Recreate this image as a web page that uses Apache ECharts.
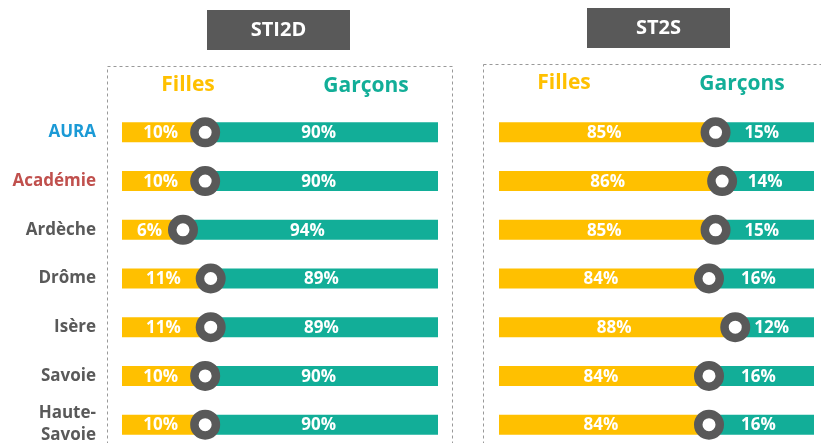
<!DOCTYPE html>
<html>
<head>
<meta charset="utf-8">
<script src="https://cdn.jsdelivr.net/npm/echarts@6/dist/echarts.min.js"></script>
<style>
  html, body { margin: 0; padding: 0; background: #fff; }
  #chart { width: 821px; height: 443px; }
</style>
</head>
<body>
<div id="chart"></div>
<script>
// territoires (du haut vers le bas)
const territoires = ['AURA', 'Académie', 'Ardèche', 'Drôme', 'Isère', 'Savoie', 'Haute-\nSavoie']
const couleursTerritoires = ['#1b9ad6', '#c0504d', '#595959', '#595959', '#595959', '#595959', '#595959']

// STI2D
const sti2dFilles = [10, 10, 6, 11, 11, 10, 10]
const sti2dGarcons = [90, 90, 94, 89, 89, 90, 90]

// ST2S
const st2sFilles = [85, 86, 85, 84, 88, 84, 84]
const st2sGarcons = [15, 14, 15, 16, 12, 16, 16]

const JAUNE = '#ffc000'
const VERT = '#12ae98'
const GRIS = '#595959'
const FONT = 'Open Sans'

const chart = echarts.init(document.getElementById('chart'))

// une barre = segment filles + segment garçons + rond au point de bascule
function makeRender(filles, garcons, min, max) {
  return function (params, api) {
    const idx = api.value(1)
    const v = api.value(0)
    const p0 = api.coord([min, idx])
    const p = api.coord([v, idx])
    const p1 = api.coord([max, idx])
    const h = 20
    const y = p[1]
    const txt = (x, s) => ({
      type: 'text',
      style: {
        x, y: y + 1, text: s, fill: '#fff', align: 'center', verticalAlign: 'middle',
        font: 'bold 17px "' + FONT + '"'
      }
    })
    return {
      type: 'group',
      children: [
        { type: 'rect', shape: { x: p0[0], y: y - h / 2, width: p[0] - p0[0], height: h }, style: { fill: JAUNE } },
        { type: 'rect', shape: { x: p[0], y: y - h / 2, width: p1[0] - p[0], height: h }, style: { fill: VERT } },
        txt((p0[0] + p[0]) / 2 - 3, filles[idx] + '%'),
        txt((p[0] + p1[0]) / 2 - 3, garcons[idx] + '%'),
        { type: 'circle', shape: { cx: p[0], cy: y, r: 10.75 }, style: { fill: '#fff', stroke: GRIS, lineWidth: 8.5 } }
      ]
    }
  }
}

const yCommon = {
  type: 'category',
  data: territoires,
  inverse: true,
  axisLine: { show: false },
  axisTick: { show: false },
  splitLine: { show: false }
}

const xCommon = {
  type: 'value',
  show: false,
  splitLine: { show: false }
}

function header(x, y, s, color) {
  return {
    type: 'text', x, y,
    style: { text: s, fill: color, font: 'bold 21px "' + FONT + '"', align: 'center', verticalAlign: 'middle' }
  }
}

function titleBox(x, y, w, h, s) {
  return {
    type: 'group',
    children: [
      { type: 'rect', shape: { x, y, width: w, height: h }, style: { fill: GRIS } },
      { type: 'text', x: x + w / 2, y: y + h / 2, style: { text: s, fill: '#fff', font: 'bold 20px "' + FONT + '"', align: 'center', verticalAlign: 'middle' } }
    ]
  }
}

const option = {
  animation: false,
  grid: [
    { left: 122, width: 316, top: 108, bottom: -6, outerBoundsMode: 'none', containLabel: false },
    { left: 499, width: 315, top: 108, bottom: -6, outerBoundsMode: 'none', containLabel: false }
  ],
  xAxis: [
    Object.assign({ gridIndex: 0, min: -5, max: 52 }, xCommon),
    Object.assign({ gridIndex: 1, min: 52, max: 100 }, xCommon)
  ],
  yAxis: [
    Object.assign({
      gridIndex: 0,
      axisLabel: {
        margin: 26,
        fontFamily: FONT,
        fontWeight: 'bold',
        fontSize: 17,
        lineHeight: 22,
        align: 'right',
        color: (val, i) => couleursTerritoires[i]
      }
    }, yCommon),
    Object.assign({ gridIndex: 1, axisLabel: { show: false } }, yCommon)
  ],
  graphic: [
    { type: 'rect', shape: { x: 107.5, y: 66.5, width: 345, height: 420 }, style: { fill: 'none', stroke: '#999', lineWidth: 1, lineDash: [3, 3] } },
    { type: 'rect', shape: { x: 483.5, y: 64.5, width: 400, height: 420 }, style: { fill: 'none', stroke: '#999', lineWidth: 1, lineDash: [3, 3] } },
    titleBox(207, 10, 143, 40, 'STI2D'),
    titleBox(587, 8, 143, 40, 'ST2S'),
    header(188, 85, 'Filles', JAUNE),
    header(366, 86, 'Garçons', VERT),
    header(564, 83, 'Filles', JAUNE),
    header(742, 84, 'Garçons', VERT)
  ],
  series: [
    {
      name: 'STI2D',
      type: 'custom',
      xAxisIndex: 0,
      yAxisIndex: 0,
      renderItem: makeRender(sti2dFilles, sti2dGarcons, -5, 52),
      data: sti2dFilles.map((v, i) => [v, i])
    },
    {
      name: 'ST2S',
      type: 'custom',
      xAxisIndex: 1,
      yAxisIndex: 1,
      renderItem: makeRender(st2sFilles, st2sGarcons, 52, 100),
      data: st2sFilles.map((v, i) => [v, i])
    }
  ]
}

chart.setOption(option)
</script>
</body>
</html>
